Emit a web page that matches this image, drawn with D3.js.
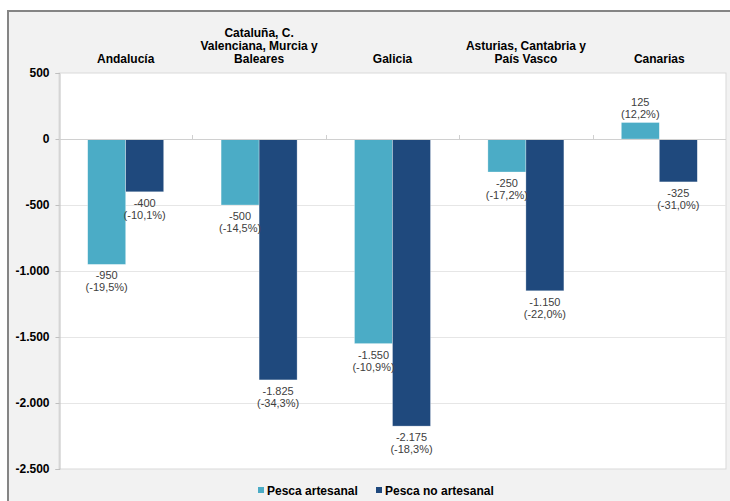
<!DOCTYPE html>
<html><head><meta charset="utf-8">
<script src="https://cdn.jsdelivr.net/npm/d3@7/dist/d3.min.js"></script>
<style>body{margin:0;background:#fff}svg{display:block;font-family:"Liberation Sans",Arial,sans-serif}</style>
</head><body>
<script>
const categories = [["Andalucía"],["Cataluña, C.","Valenciana, Murcia y","Baleares"],["Galicia"],["Asturias, Cantabria y","País Vasco"],["Canarias"]];
const series = ["Pesca artesanal","Pesca no artesanal"];
const artesanal = [-950,-500,-1550,-250,125];
const noArtesanal = [-400,-1825,-2175,-1150,-325];
const pctArtesanal = ["(-19,5%)","(-14,5%)","(-10,9%)","(-17,2%)","(12,2%)"];
const pctNoArtesanal = ["(-10,1%)","(-34,3%)","(-18,3%)","(-22,0%)","(-31,0%)"];
const yTicks = [500,0,-500,-1000,-1500,-2000,-2500];
const colors = ["#4BACC6","#1F497D"];

const W=730,H=501;
const svg=d3.select("body").append("svg").attr("width",W).attr("height",H);
const loc=d3.formatLocale({decimal:",",thousands:".",grouping:[3],currency:["","€"],minus:"-"});
const fmt=loc.format(",d");

// frame
svg.append("rect").attr("x",8).attr("y",11).attr("width",W).attr("height",H).attr("fill","#f2f2f2").attr("stroke","#858585").attr("stroke-width",2);

const L=59,R=726,T=73,B=469;
const x=d3.scaleBand().domain(d3.range(5)).range([L,R]).paddingInner(0).paddingOuter(0);
const y=d3.scaleLinear().domain([-2500,500]).range([B,T]);

// plot area
svg.append("rect").attr("x",L).attr("y",T).attr("width",R-L).attr("height",B-T).attr("fill","#fff").attr("stroke","#d9d9d9").attr("stroke-width",1);
// gridlines
svg.append("g").selectAll("line").data(yTicks.filter(t=>t!==0&&t!==500&&t!==-2500)).join("line")
  .attr("x1",L).attr("x2",R).attr("y1",d=>Math.round(y(d))+0.5).attr("y2",d=>Math.round(y(d))+0.5)
  .attr("stroke","#e6e6e6");

// y axis
const ya=svg.append("g").attr("transform",`translate(${L+0.5},0)`).call(d3.axisLeft(y).tickValues(yTicks).tickFormat(fmt).tickSize(4).tickPadding(6));
ya.select(".domain").attr("stroke","#bfbfbf");
ya.selectAll(".tick line").attr("stroke","#bfbfbf");
ya.selectAll(".tick text").attr("font-family","Liberation Sans, Arial, sans-serif").attr("font-size",12).attr("font-weight","bold").attr("fill","#000");

// bars
const data=[artesanal,noArtesanal];
const pcts=[pctArtesanal,pctNoArtesanal];
const bw=38;
const g=svg.append("g");
data.forEach((arr,s)=>{
  g.selectAll(".b"+s).data(arr).join("rect")
    .attr("x",(d,i)=>x(i)+x.bandwidth()/2+(s===0?-bw:0))
    .attr("width",bw)
    .attr("y",d=>y(Math.max(0,d)))
    .attr("height",d=>Math.abs(y(d)-y(0)))
    .attr("fill",colors[s]).attr("stroke","#ffffff").attr("stroke-opacity",0.5).attr("stroke-width",0.6);
});
// zero line
svg.append("line").attr("x1",L).attr("x2",R).attr("y1",Math.round(y(0))+0.5).attr("y2",Math.round(y(0))+0.5).attr("stroke","#d0d0d0");
// category ticks on zero line
svg.append("g").selectAll("line").data(d3.range(1,5)).join("line")
  .attr("x1",i=>Math.round(x(i))+0.5).attr("x2",i=>Math.round(x(i))+0.5)
  .attr("y1",y(0)-4).attr("y2",y(0)).attr("stroke","#d0d0d0");

// data labels
data.forEach((arr,s)=>{
  arr.forEach((d,i)=>{
    const cx=x(i)+x.bandwidth()/2+(s===0?-bw/2:bw/2);
    const ye=y(d);
    const b1= d<0? ye+15 : ye-17;
    const t=svg.append("text").attr("text-anchor","middle").attr("font-size",11).attr("fill","#404040");
    t.append("tspan").attr("x",cx).attr("y",b1).text(fmt(d));
    t.append("tspan").attr("x",cx).attr("y",b1+12).text(pcts[s][i]);
  });
});

// category labels
categories.forEach((lines,i)=>{
  const cx=x(i)+x.bandwidth()/2;
  const t=svg.append("text").attr("text-anchor","middle").attr("font-size",12).attr("font-weight","bold").attr("fill","#000");
  lines.forEach((ln,k)=>{
    t.append("tspan").attr("x",cx).attr("y",62.5-(lines.length-1-k)*12.8).text(ln);
  });
});

// legend
const lx=[258,376];
series.forEach((s,i)=>{
  svg.append("rect").attr("x",lx[i]).attr("y",487).attr("width",6).attr("height",6).attr("fill",colors[i]);
  svg.append("text").attr("x",lx[i]+9).attr("y",495).attr("font-size",12).attr("font-weight","bold").attr("fill","#000").text(s);
});
</script>
</body></html>
